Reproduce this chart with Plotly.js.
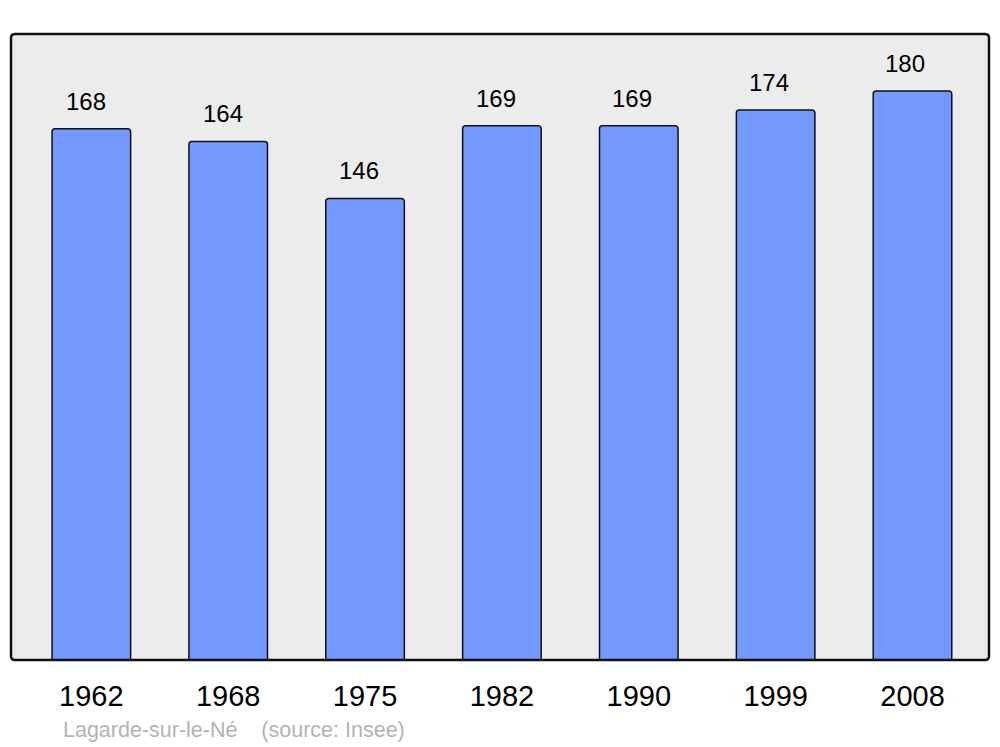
<!DOCTYPE html>
<html>
<head>
<meta charset="utf-8">
<script src="https://cdn.plot.ly/plotly-3.0.1.min.js"></script>
<style>html,body{margin:0;padding:0;background:#fff;}#chart{width:1000px;height:747px;}</style>
</head>
<body>
<div id="chart"></div>
<script>
const years = ["1962", "1968", "1975", "1982", "1990", "1999", "2008"];
const population = [168, 164, 146, 169, 169, 174, 180];
const footer = "Lagarde-sur-le-Né    (source: Insee)";

const idx = years.map((_, i) => i);

const trace = {
  type: "bar",
  x: idx,
  y: population,
  width: 0.574,
  marker: {
    color: "#7399ff",
    line: {color: "#111111", width: 1.5},
    cornerradius: 3
  },
  hoverinfo: "skip"
};

const annotations = population.map((v, i) => ({
  x: i, y: v, xref: "x", yref: "y",
  text: String(v),
  showarrow: false,
  yanchor: "bottom",
  xshift: -5 - i * 0.4,
  yshift: 12,
  font: {family: "Liberation Sans, Arial, sans-serif", size: 24, color: "#000"}
}));

annotations.push({
  xref: "paper", yref: "paper",
  x: 0.0511, y: -0.1118,
  xanchor: "left", yanchor: "middle",
  text: "Lagarde-sur-le-Né&nbsp;&nbsp;&nbsp;&nbsp;(source: Insee)",
  showarrow: false,
  font: {family: "Liberation Sans, Arial, sans-serif", size: 21.5, color: "#b3b3b3"}
});

// rounded plot frame (radius in pixels converted to paper fractions)
const rx = 4 / 978, ry = 4 / 626;
const framePath = [
  `M ${rx},0`, `L ${1 - rx},0`, `Q 1,0 1,${ry}`,
  `L 1,${1 - ry}`, `Q 1,1 ${1 - rx},1`,
  `L ${rx},1`, `Q 0,1 0,${1 - ry}`,
  `L 0,${ry}`, `Q 0,0 ${rx},0`, "Z"
].join(" ");

const layout = {
  width: 1000, height: 747,
  margin: {l: 11, r: 11, t: 34, b: 87, pad: 0},
  paper_bgcolor: "#ffffff",
  plot_bgcolor: "rgba(0,0,0,0)",
  showlegend: false,
  xaxis: {
    type: "linear",
    range: [-0.587, 6.559],
    tickmode: "array",
    tickvals: idx,
    ticktext: years,
    ticks: "outside",
    ticklen: 10,
    tickcolor: "rgba(0,0,0,0)",
    showgrid: false,
    zeroline: false,
    showline: false,
    tickfont: {family: "Liberation Sans, Arial, sans-serif", size: 29, color: "#000"},
    fixedrange: true
  },
  yaxis: {
    range: [0, 198],
    showgrid: false,
    zeroline: false,
    showticklabels: false,
    showline: false,
    fixedrange: true
  },
  shapes: [{
    type: "path", xref: "paper", yref: "paper",
    path: framePath,
    fillcolor: "#ececec",
    line: {width: 0},
    layer: "below"
  }, {
    type: "path", xref: "paper", yref: "paper",
    path: framePath,
    line: {color: "#111111", width: 2.5},
    layer: "above"
  }],
  annotations: annotations
};

Plotly.newPlot("chart", [trace], layout, {displayModeBar: false, staticPlot: true});
</script>
</body>
</html>
